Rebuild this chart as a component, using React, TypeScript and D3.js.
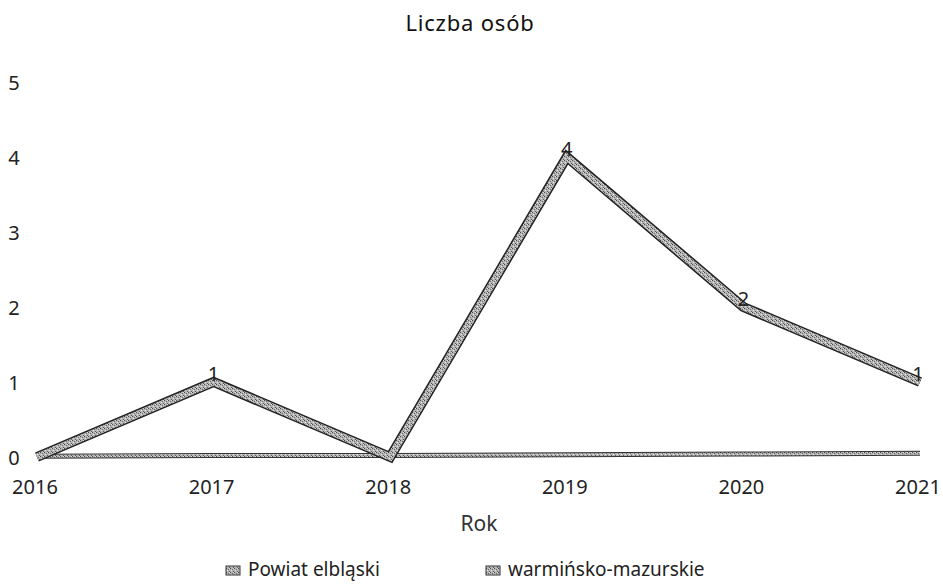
import * as d3 from "d3";

const years = [2016, 2017, 2018, 2019, 2020, 2021];
const powiat = [0, 1, 0, 4, 2, 1];
const wojewodztwo = [0.01, 0.02, 0.02, 0.03, 0.04, 0.05];
const yTicks = [0, 1, 2, 3, 4, 5];
const seriesNames = ["Powiat elbląski", "warmińsko-mazurskie"];

export default function App() {
  const width = 943;
  const height = 585;
  const font = "'Noto Sans', 'Open Sans', sans-serif";

  // scales
  const x = d3.scalePoint<number>().domain(years).range([37, 920]);
  const y = d3.scaleLinear().domain([0, 5]).range([457, 82]);

  const line = d3
    .line<number>()
    .x((_, i) => x(years[i]) as number)
    .y((d) => y(d));

  return (
    <svg
      width={width}
      height={height}
      style={{ position: "absolute", left: 0, top: 0, background: "#fff" }}
      fontFamily={font}
    >
      <defs>
        <pattern id="grain" width="4" height="4" patternUnits="userSpaceOnUse">
          <rect width="4" height="4" fill="#b4b4b4" />
          <rect x="0" y="0" width="1" height="1" fill="#4a4a4a" />
          <rect x="2" y="1" width="1" height="1" fill="#6a6a6a" />
          <rect x="1" y="2" width="1" height="1" fill="#e8e8e8" />
          <rect x="3" y="3" width="1" height="1" fill="#5a5a5a" />
          <rect x="3" y="0" width="1" height="1" fill="#dcdcdc" />
        </pattern>
      </defs>

      <text x={470} y={31} textAnchor="middle" fontSize={22} letterSpacing={0.8} fill="#111">
        Liczba osób
      </text>

      {/* y axis labels */}
      {yTicks.map((t) => (
        <text key={t} x={14} y={y(t) + 8} textAnchor="middle" fontSize={20} fill="#222">
          {t}
        </text>
      ))}

      {/* x axis labels */}
      {years.map((yr) => (
        <text key={yr} x={(x(yr) as number) - 2} y={494} textAnchor="middle" fontSize={20} fill="#222">
          {yr}
        </text>
      ))}

      <text x={479} y={531} textAnchor="middle" fontSize={21} fill="#333">
        Rok
      </text>

      {/* warminsko-mazurskie */}
      <path d={line(wojewodztwo) ?? ""} fill="none" stroke="#333" strokeWidth={5} />
      <path d={line(wojewodztwo) ?? ""} fill="none" stroke="url(#grain)" strokeWidth={3} />

      {/* powiat */}
      <path d={line(powiat) ?? ""} fill="none" stroke="#222" strokeWidth={10} strokeLinejoin="miter" />
      <path d={line(powiat) ?? ""} fill="none" stroke="url(#grain)" strokeWidth={7} strokeLinejoin="miter" />

      {/* data labels */}
      {powiat.map((v, i) =>
        v > 0 ? (
          <text
            key={i}
            x={(x(years[i]) as number) + (i === years.length - 1 ? -2 : 0)}
            y={y(v) - 1}
            textAnchor="middle"
            fontSize={20}
            fill="#222"
          >
            {v}
          </text>
        ) : null
      )}

      {/* legend */}
      {seriesNames.map((name, i) => (
        <g key={name} transform={`translate(${i === 0 ? 226 : 486},576)`}>
          <rect x={0} y={-10} width={14} height={9} fill="url(#grain)" stroke="#333" strokeWidth={1} />
          <text x={22} y={0} fontSize={19} fill="#222">
            {name}
          </text>
        </g>
      ))}
    </svg>
  );
}
